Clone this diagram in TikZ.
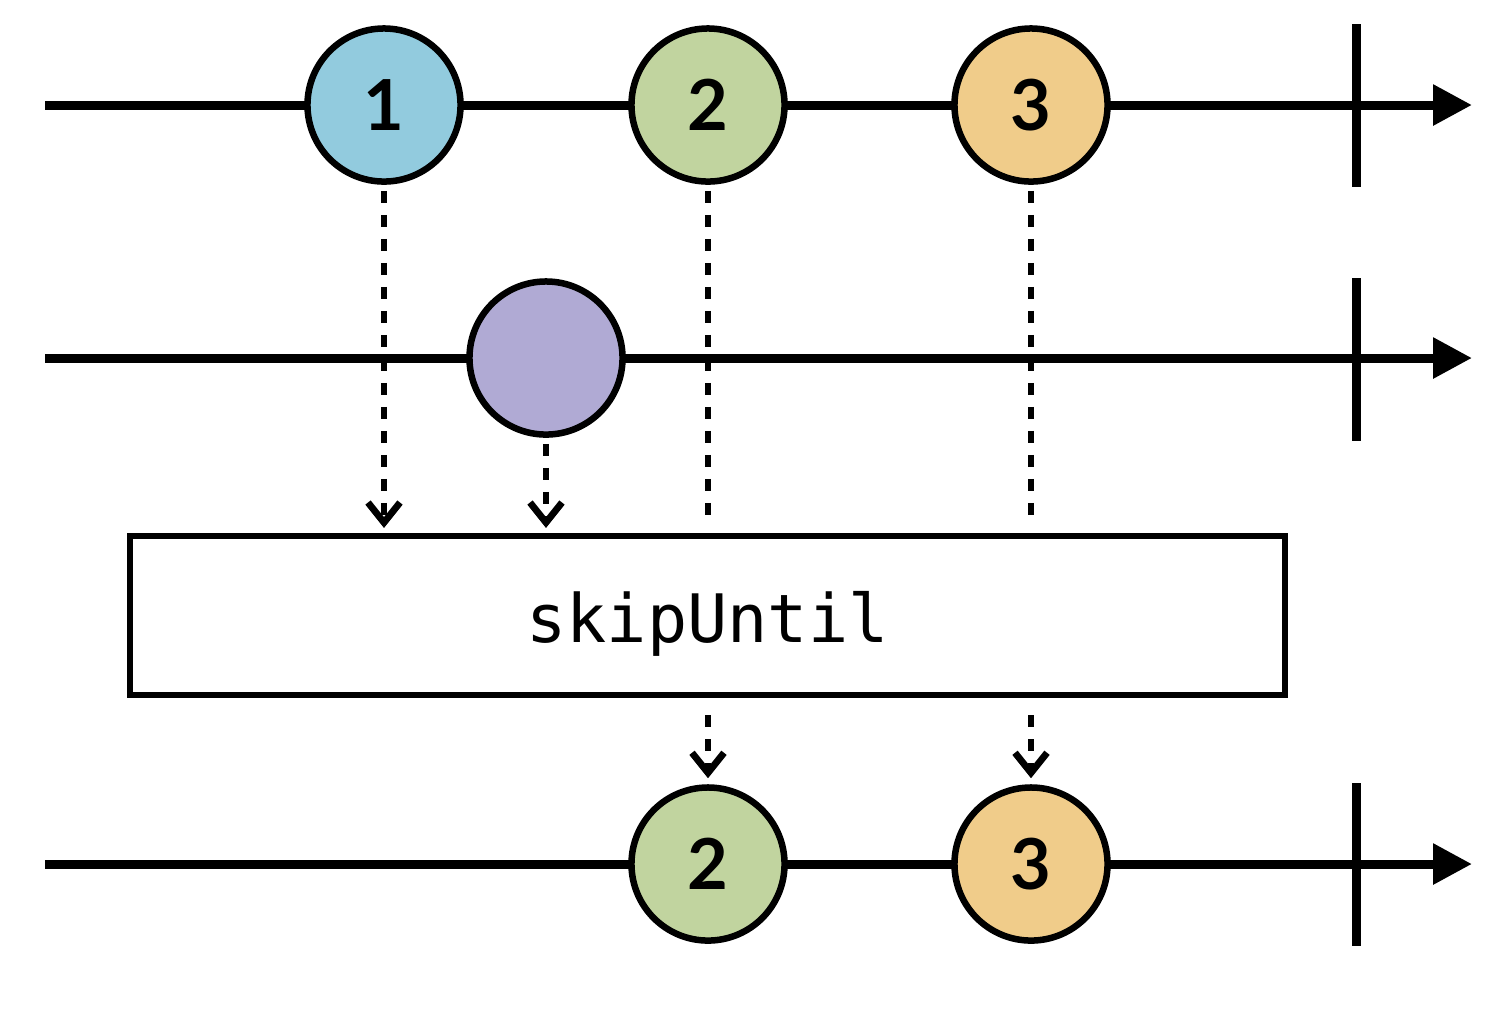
\documentclass[tikz,border=0pt]{standalone}
\usepackage{fontspec}
\setmainfont{Lato}
\setmonofont{DejaVu Sans Mono}
\usetikzlibrary{arrows.meta,positioning,shadows}
\definecolor{ballblue}{HTML}{92CBDE}
\definecolor{ballgreen}{HTML}{C1D49F}
\definecolor{ballorange}{HTML}{F0CC8A}
\definecolor{ballpurple}{HTML}{B0AAD4}

\begin{document}
\begin{tikzpicture}[x=0.01cm,y=-0.01cm,
  timeline/.style={line width=0.09cm,-{Triangle[length=0.39cm,width=0.39cm]}},
  stopmark/.style={line width=0.09cm},
  ball/.style={circle,draw,line width=0.065cm,minimum size=1.53cm,inner sep=0pt,
    font=\bfseries\fontsize{20}{22}\selectfont,
    drop shadow={shadow xshift=0.01cm,shadow yshift=-0.03cm,opacity=0.25}},
  flow/.style={line width=0.068cm,dash pattern=on 0.12cm off 0.12cm},
  flowtip/.style={flow,-{Straight Barb[length=0.2cm,width=0.32cm]}}]
  \useasboundingbox (0,0) rectangle (1507,1020);

  % source stream
  \coordinate (a0) at (45,105);
  \coordinate (a1) at (1472,105);
  \draw[timeline] (a0) -- (a1);
  \draw[stopmark] (1356,24) -- (1356,187);
  \node[ball,fill=ballblue] (one) at (384,105) {1};
  \node[ball,fill=ballgreen] (two) at (708,105) {2};
  \node[ball,fill=ballorange] (three) at (1031,105) {3};

  % trigger stream
  \coordinate (b0) at (45,358);
  \coordinate (b1) at (1472,358);
  \draw[timeline] (b0) -- (b1);
  \draw[stopmark] (1356,278) -- (1356,441);
  \node[ball,fill=ballpurple] (trig) at (546,358) {};

  % operator
  \node[draw,line width=0.06cm,minimum width=11.55cm,minimum height=1.59cm,inner sep=0pt,
    text height=0.62cm,text depth=0.09cm,
    font=\ttfamily\fontsize{19}{22}\selectfont] (op) at (707.5,615.5) {skipUntil};

  \draw[flowtip,shorten >=0.05cm] ([yshift=-0.06cm]one.south) -- (one.south |- op.north);
  \draw[flowtip,shorten >=0.05cm] ([yshift=-0.06cm]trig.south) -- (trig.south |- op.north);
  \draw[flow] ([yshift=-0.06cm]two.south) -- ([yshift=0.15cm]two.south |- op.north);
  \draw[flow] ([yshift=-0.06cm]three.south) -- ([yshift=0.15cm]three.south |- op.north);

  % result stream
  \coordinate (c0) at (45,864);
  \coordinate (c1) at (1472,864);
  \draw[timeline] (c0) -- (c1);
  \draw[stopmark] (1356,783) -- (1356,946);
  \node[ball,fill=ballgreen] (outtwo) at (708,864) {2};
  \node[ball,fill=ballorange] (outthree) at (1031,864) {3};

  \draw[flowtip,shorten >=0.06cm] ([yshift=-0.17cm]op.south -| outtwo) -- (outtwo.north);
  \draw[flowtip,shorten >=0.06cm] ([yshift=-0.17cm]op.south -| outthree) -- (outthree.north);
\end{tikzpicture}
\end{document}
